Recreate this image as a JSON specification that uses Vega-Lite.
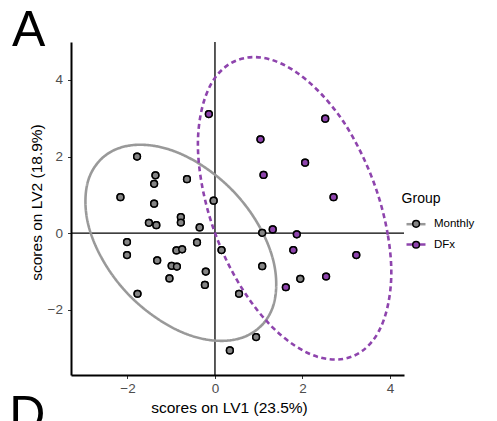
{
  "$schema": "https://vega.github.io/schema/vega-lite/v6.json",
  "width": 333,
  "height": 333,
  "autosize": "none",
  "padding": {"left": 71, "top": 42, "right": 93, "bottom": 46},
  "background": "white",
  "config": {
    "view": {"stroke": null},
    "font": "Liberation Sans",
    "axis": {"grid": false}
  },
  "datasets": {
    "one": [{"k": 1}],
    "pts": [
      {"group": "Monthly", "x": -1.78, "y": 2.00},
      {"group": "Monthly", "x": -1.36, "y": 1.51},
      {"group": "Monthly", "x": -1.39, "y": 1.29},
      {"group": "Monthly", "x": -0.64, "y": 1.41},
      {"group": "Monthly", "x": -2.16, "y": 0.94},
      {"group": "Monthly", "x": -1.39, "y": 0.77},
      {"group": "Monthly", "x": -0.03, "y": 0.85},
      {"group": "Monthly", "x": -1.51, "y": 0.27},
      {"group": "Monthly", "x": -1.34, "y": 0.21},
      {"group": "Monthly", "x": -0.78, "y": 0.42},
      {"group": "Monthly", "x": -0.78, "y": 0.28},
      {"group": "Monthly", "x": -0.35, "y": 0.15},
      {"group": "Monthly", "x": -2.01, "y": -0.23},
      {"group": "Monthly", "x": -2.01, "y": -0.57},
      {"group": "Monthly", "x": -0.41, "y": -0.24},
      {"group": "Monthly", "x": -0.88, "y": -0.45},
      {"group": "Monthly", "x": -0.75, "y": -0.42},
      {"group": "Monthly", "x": -1.32, "y": -0.71},
      {"group": "Monthly", "x": -0.99, "y": -0.85},
      {"group": "Monthly", "x": -0.87, "y": -0.87},
      {"group": "Monthly", "x": -0.21, "y": -1.0},
      {"group": "Monthly", "x": -1.04, "y": -1.18},
      {"group": "Monthly", "x": -0.23, "y": -1.35},
      {"group": "Monthly", "x": -1.77, "y": -1.58},
      {"group": "Monthly", "x": 0.15, "y": -0.44},
      {"group": "Monthly", "x": 1.08, "y": 0.01},
      {"group": "Monthly", "x": 1.08, "y": -0.86},
      {"group": "Monthly", "x": 1.95, "y": -1.19},
      {"group": "Monthly", "x": 0.55, "y": -1.58},
      {"group": "Monthly", "x": 0.94, "y": -2.71},
      {"group": "Monthly", "x": 0.34, "y": -3.06},
      {"group": "DFx", "x": -0.14, "y": 3.11},
      {"group": "DFx", "x": 2.52, "y": 2.99},
      {"group": "DFx", "x": 1.04, "y": 2.45},
      {"group": "DFx", "x": 2.06, "y": 1.84},
      {"group": "DFx", "x": 1.11, "y": 1.52},
      {"group": "DFx", "x": 2.71, "y": 0.94},
      {"group": "DFx", "x": 1.32, "y": 0.10},
      {"group": "DFx", "x": 1.87, "y": -0.03},
      {"group": "DFx", "x": 1.79, "y": -0.44},
      {"group": "DFx", "x": 3.23, "y": -0.57},
      {"group": "DFx", "x": 2.54, "y": -1.13},
      {"group": "DFx", "x": 1.62, "y": -1.41}
    ],
    "ell": [
      {"Group": "Monthly", "i": 0, "x": 1.40, "y": -1.33},
      {"Group": "Monthly", "i": 1, "x": 1.33, "y": -0.70},
      {"Group": "Monthly", "i": 2, "x": 1.11, "y": -0.03},
      {"Group": "Monthly", "i": 3, "x": 0.76, "y": 0.63},
      {"Group": "Monthly", "i": 4, "x": 0.31, "y": 1.22},
      {"Group": "Monthly", "i": 5, "x": -0.22, "y": 1.71},
      {"Group": "Monthly", "i": 6, "x": -0.78, "y": 2.07},
      {"Group": "Monthly", "i": 7, "x": -1.34, "y": 2.27},
      {"Group": "Monthly", "i": 8, "x": -1.87, "y": 2.30},
      {"Group": "Monthly", "i": 9, "x": -2.32, "y": 2.16},
      {"Group": "Monthly", "i": 10, "x": -2.67, "y": 1.85},
      {"Group": "Monthly", "i": 11, "x": -2.89, "y": 1.40},
      {"Group": "Monthly", "i": 12, "x": -2.96, "y": 0.83},
      {"Group": "Monthly", "i": 13, "x": -2.89, "y": 0.20},
      {"Group": "Monthly", "i": 14, "x": -2.67, "y": -0.47},
      {"Group": "Monthly", "i": 15, "x": -2.32, "y": -1.13},
      {"Group": "Monthly", "i": 16, "x": -1.87, "y": -1.72},
      {"Group": "Monthly", "i": 17, "x": -1.34, "y": -2.21},
      {"Group": "Monthly", "i": 18, "x": -0.78, "y": -2.57},
      {"Group": "Monthly", "i": 19, "x": -0.22, "y": -2.77},
      {"Group": "Monthly", "i": 20, "x": 0.31, "y": -2.80},
      {"Group": "Monthly", "i": 21, "x": 0.76, "y": -2.66},
      {"Group": "Monthly", "i": 22, "x": 1.11, "y": -2.35},
      {"Group": "Monthly", "i": 23, "x": 1.33, "y": -1.90},
      {"Group": "DFx", "i": 0, "x": 4.03, "y": -1.02},
      {"Group": "DFx", "i": 1, "x": 3.95, "y": -0.04},
      {"Group": "DFx", "i": 2, "x": 3.73, "y": 0.99},
      {"Group": "DFx", "i": 3, "x": 3.38, "y": 2.00},
      {"Group": "DFx", "i": 4, "x": 2.93, "y": 2.92},
      {"Group": "DFx", "i": 5, "x": 2.39, "y": 3.68},
      {"Group": "DFx", "i": 6, "x": 1.82, "y": 4.23},
      {"Group": "DFx", "i": 7, "x": 1.25, "y": 4.54},
      {"Group": "DFx", "i": 8, "x": 0.72, "y": 4.58},
      {"Group": "DFx", "i": 9, "x": 0.26, "y": 4.36},
      {"Group": "DFx", "i": 10, "x": -0.09, "y": 3.89},
      {"Group": "DFx", "i": 11, "x": -0.31, "y": 3.19},
      {"Group": "DFx", "i": 12, "x": -0.39, "y": 2.32},
      {"Group": "DFx", "i": 13, "x": -0.31, "y": 1.34},
      {"Group": "DFx", "i": 14, "x": -0.09, "y": 0.31},
      {"Group": "DFx", "i": 15, "x": 0.26, "y": -0.70},
      {"Group": "DFx", "i": 16, "x": 0.72, "y": -1.62},
      {"Group": "DFx", "i": 17, "x": 1.25, "y": -2.38},
      {"Group": "DFx", "i": 18, "x": 1.82, "y": -2.93},
      {"Group": "DFx", "i": 19, "x": 2.39, "y": -3.24},
      {"Group": "DFx", "i": 20, "x": 2.93, "y": -3.28},
      {"Group": "DFx", "i": 21, "x": 3.38, "y": -3.06},
      {"Group": "DFx", "i": 22, "x": 3.73, "y": -2.59},
      {"Group": "DFx", "i": 23, "x": 3.95, "y": -1.89}
    ]
  },
  "layer": [
    {
      "data": {"name": "pts"},
      "mark": {"type": "circle", "size": 45, "opacity": 1, "stroke": "black", "strokeWidth": 1.5},
      "encoding": {
        "x": {
          "field": "x", "type": "quantitative",
          "scale": {"domain": [-3.29, 4.32], "nice": false, "zero": false},
          "axis": {
            "values": [-2, 0, 2, 4], "title": "scores on LV1 (23.5%)",
            "titleFontSize": 15.5, "titleFontWeight": "normal", "titleColor": "black",
            "titleX": 158, "titleY": 37, "titleBaseline": "alphabetic", "titleAlign": "center",
            "labelFontSize": 13.5, "labelColor": "#4d4d4d", "labelPadding": 2.5,
            "tickColor": "#333333", "tickSize": 3.5, "tickWidth": 1,
            "domainColor": "black", "domainWidth": 2, "grid": false
          }
        },
        "y": {
          "field": "y", "type": "quantitative",
          "scale": {"domain": [-3.70, 4.99], "nice": false, "zero": false},
          "axis": {
            "values": [-2, 0, 2, 4], "title": "scores on LV2 (18.9%)",
            "titleFontSize": 15.5, "titleFontWeight": "normal", "titleColor": "black",
            "titleX": -30, "titleY": 160, "titleAngle": -90, "titleBaseline": "alphabetic", "titleAlign": "center",
            "labelFontSize": 13.5, "labelColor": "#4d4d4d", "labelPadding": 5,
            "tickColor": "#333333", "tickSize": 3.5, "tickWidth": 1,
            "domainColor": "black", "domainWidth": 2, "grid": false
          }
        },
        "fill": {
          "field": "group", "type": "nominal", "sort": ["Monthly", "DFx"],
          "scale": {"range": ["#858585", "#8e44ad"]},
          "legend": {
            "title": null, "orient": "none", "legendX": 330.6, "legendY": 177.35, "padding": 0,
            "labelFontSize": 1, "labelExpr": "''", "labelColor": "transparent",
            "symbolType": "circle", "symbolSize": 45, "symbolStrokeColor": "black", "symbolStrokeWidth": 1.5,
            "symbolOffset": 10, "rowPadding": 7.9, "zindex": 2
          }
        }
      }
    },
    {
      "data": {"name": "one"},
      "mark": {"type": "rule", "color": "black", "strokeWidth": 1.3},
      "encoding": {"x": {"datum": 0, "type": "quantitative"}}
    },
    {
      "data": {"name": "one"},
      "mark": {"type": "rule", "color": "black", "strokeWidth": 1.3},
      "encoding": {"y": {"datum": 0, "type": "quantitative"}}
    },
    {
      "data": {"name": "ell"},
      "mark": {"type": "line", "strokeWidth": 2.6, "interpolate": "cardinal-closed"},
      "encoding": {
        "x": {"field": "x", "type": "quantitative"},
        "y": {"field": "y", "type": "quantitative"},
        "order": {"field": "i", "type": "quantitative"},
        "stroke": {
          "field": "Group", "type": "nominal", "sort": ["Monthly", "DFx"],
          "scale": {"range": ["#999999", "#8e44ad"]},
          "legend": {
            "title": "Group", "orient": "none", "legendX": 330.6, "legendY": 150.3, "padding": 0,
            "titleFontSize": 14, "titleFontWeight": "normal", "titleColor": "black", "titlePadding": 6.9,
            "labelFontSize": 11.5, "labelColor": "black", "labelOffset": 7,
            "symbolType": "stroke", "symbolSize": 361, "symbolStrokeWidth": 2.5,
            "symbolOffset": 3.4, "rowPadding": 3.3, "zindex": 1
          }
        },
        "strokeDash": {
          "field": "Group", "type": "nominal", "sort": ["Monthly", "DFx"],
          "scale": {"range": [[1, 0], [5, 3.5]]},
          "legend": null
        }
      }
    },
    {
      "data": {"name": "pts"},
      "mark": {"type": "circle", "size": 45, "opacity": 1, "stroke": "black", "strokeWidth": 1.5},
      "encoding": {
        "x": {"field": "x", "type": "quantitative"},
        "y": {"field": "y", "type": "quantitative"},
        "fill": {"field": "group", "type": "nominal", "sort": ["Monthly", "DFx"]}
      }
    },
    {
      "data": {"name": "one"},
      "mark": {"type": "text", "text": "A", "fontSize": 50, "align": "left", "baseline": "alphabetic", "color": "black"},
      "encoding": {"x": {"datum": -4.64, "type": "quantitative"}, "y": {"datum": 4.89, "type": "quantitative"}}
    },
    {
      "data": {"name": "one"},
      "mark": {"type": "text", "text": "D", "fontSize": 50, "align": "left", "baseline": "alphabetic", "color": "black"},
      "encoding": {"x": {"datum": -4.70, "type": "quantitative"}, "y": {"datum": -5.16, "type": "quantitative"}}
    }
  ]
}
